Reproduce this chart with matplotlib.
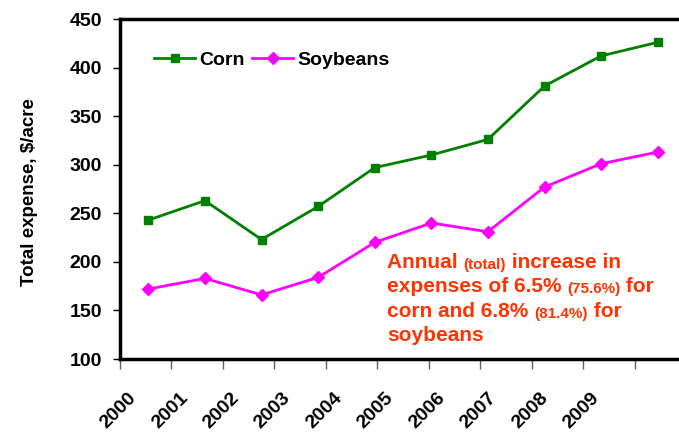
import numpy as np
import matplotlib
matplotlib.use('Agg')
import matplotlib.pyplot as plt
from matplotlib.transforms import ScaledTranslation

years = ['2000', '2001', '2002', '2003', '2004', '2005', '2006', '2007', '2008', '2009']
corn = [243, 263, 223, 257, 297, 310, 326, 381, 412, 426]
soybeans = [172, 183, 166, 184, 220, 240, 231, 277, 301, 313]

plt.rcParams['font.family'] = ['Liberation Sans', 'DejaVu Sans']
plt.rcParams['font.weight'] = 'bold'

W, H = 679, 434
fig = plt.figure(figsize=(W / 100, H / 100), dpi=100)
# axes runs past the right edge of the picture, as in the original
ax = fig.add_axes([120 / W, 75 / H, 566 / W, 340 / H])

n = len(years)
x = np.arange(n) + 0.5
ax.plot(x, corn, color='#008000', lw=2, marker='s', ms=6, label='Corn')
ax.plot(x, soybeans, color='#FF00FF', lw=2, marker='D', ms=6, label='Soybeans')

ax.set_xlim(0, n)
ax.set_ylim(100, 450)
ax.set_yticks(range(100, 451, 50))
ax.tick_params(axis='y', labelsize=14, length=5, width=1, direction='out', pad=8)

# category axis with 11 slots (tick marks) but only 10 labels
step = n / (n + 1)
ax.set_xticks([k * step for k in range(n + 2)])
ax.set_xticklabels([])
ax.tick_params(axis='x', which='major', length=7, width=1, color='#606060')
ax.set_xticks([(k + 0.5) * step for k in range(n)], minor=True)
ax.set_xticklabels(years, minor=True, rotation=45, ha='right', va='top',
                   rotation_mode='anchor', fontsize=14)
ax.tick_params(axis='x', which='minor', length=0, pad=22)
shift = ScaledTranslation(-0.18, 0, fig.dpi_scale_trans)
for lab in ax.get_xticklabels(minor=True):
    lab.set_transform(lab.get_transform() + shift)

for s in ['left', 'bottom', 'top']:
    ax.spines[s].set_linewidth(2.5)
ax.spines['right'].set_visible(False)

ax.legend(loc='center left', bbox_to_anchor=(0.03, 0.879), ncol=2, frameon=False,
          fontsize=14, handlelength=2.1, handletextpad=0.2, columnspacing=0.4)

fig.text(30 / W, 1 - 192 / H, 'Total expense, $/acre', rotation=90, ha='center', va='center',
         fontsize=13.5)

# annotation with mixed font sizes
red = '#FF3300'
lines = [
    [('Annual ', 15), ('(total)', 11), (' increase in', 15)],
    [('expenses of 6.5% ', 15), ('(75.6%)', 11), (' for', 15)],
    [('corn and 6.8% ', 15), ('(81.4%)', 11), (' for', 15)],
    [('soybeans', 15)],
]
for i, parts in enumerate(lines):
    txt, fs = parts[0]
    last = fig.text(387 / W, 1 - (268 + 24.4 * i) / H, txt, fontsize=fs, color=red,
                    va='baseline', ha='left')
    for txt, fs in parts[1:]:
        last = ax.annotate(txt, xy=(1, 0), xycoords=last, fontsize=fs, color=red,
                           va='bottom', ha='left', annotation_clip=False)

fig.savefig('out.png', dpi=100)
